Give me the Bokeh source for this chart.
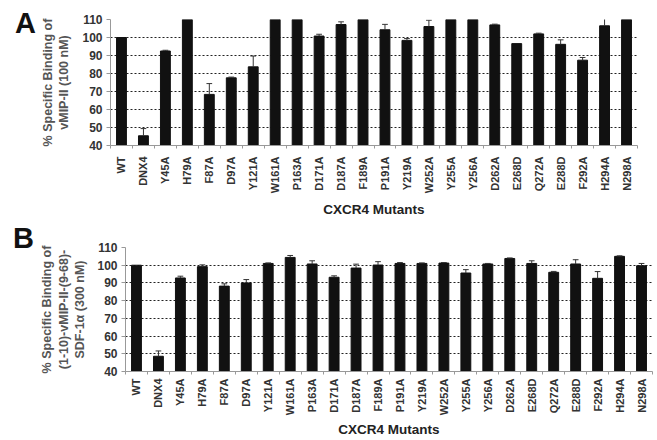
from bokeh.plotting import figure
from bokeh.layouts import column, row
from bokeh.models import Range1d, FixedTicker, Div
from bokeh.embed import file_html
from bokeh.resources import INLINE

categories = ["WT", "DNX4", "Y45A", "H79A", "F87A", "D97A", "Y121A", "W161A",
              "P163A", "D171A", "D187A", "F189A", "P191A", "Y219A", "W252A",
              "Y255A", "Y256A", "D262A", "E268D", "Q272A", "E288D", "F292A",
              "H294A", "N298A"]

vals_a = [100, 45.4, 92.5, 110, 68.4, 77.6, 83.7, 110, 110, 100.8, 107.2, 110,
          104.3, 98.4, 106.1, 110, 110, 107, 96.6, 102, 96.2, 87.4, 106.5, 110]
err_a = [0, 4, 0.4, 0, 6, 0.4, 6, 0, 0, 1, 1.5, 0, 3, 1, 3.5, 0, 0, 0.4, 0,
         0.4, 2.5, 1.5, 4.5, 0]

vals_b = [100, 48.6, 92.8, 99.2, 88.2, 90, 101, 104.4, 100.7, 93.2, 98.4, 100.1,
          101, 101, 101.2, 95.6, 100.7, 103.8, 101, 96, 100.7, 92.6, 105, 99.7]
err_b = [0, 3, 1, 1, 1.3, 1.9, 0.3, 1.1, 1.8, 0.8, 2.2, 1.9, 0.5, 0.3, 0.3,
         1.9, 0.3, 0.3, 1.5, 0.5, 2.4, 3.8, 0.3, 1.3]

y_ticks = [40, 50, 60, 70, 80, 90, 100, 110]

FONT = "Liberation Sans"
DIV_W = 36


def make_panel(vals, errs, ylabel, height, b_left, b_right, b_top, b_bottom,
               ylab_standoff, xlab_standoff, xtick_standoff):
    n = len(categories)
    xs = list(range(n))
    p = figure(width=657 - DIV_W, height=height, output_backend="svg",
               toolbar_location=None,
               x_range=Range1d(-0.5, n - 0.5), y_range=Range1d(40, 110),
               min_border_left=b_left, min_border_right=b_right,
               min_border_top=b_top, min_border_bottom=b_bottom)
    if "frame_align" in p.properties():
        p.frame_align = False
    p.outline_line_color = None
    p.background_fill_color = "white"
    p.border_fill_color = "white"

    p.vbar(x=xs, top=vals, bottom=40, width=0.45, fill_color="#111111",
           line_color="#111111")

    ex, ey0, ey1, cx0, cx1 = [], [], [], [], []
    for x, v, e in zip(xs, vals, errs):
        if e > 0:
            ex.append(x); ey0.append(v); ey1.append(v + e)
            cx0.append(x - 0.13); cx1.append(x + 0.13)
    p.segment(x0=ex, y0=ey0, x1=ex, y1=ey1, line_color="#333333", line_width=1)
    p.segment(x0=cx0, y0=ey1, x1=cx1, y1=ey1, line_color="#333333", line_width=1)

    # y axis
    p.yaxis.ticker = FixedTicker(ticks=y_ticks)
    p.yaxis.axis_line_color = "#999999"
    p.yaxis.major_tick_line_color = "#999999"
    p.yaxis.major_tick_out = 4
    p.yaxis.major_tick_in = 0
    p.yaxis.minor_tick_line_color = None
    p.yaxis.major_label_standoff = 4
    p.yaxis.major_label_text_font = FONT
    p.yaxis.major_label_text_font_size = "12px"
    p.yaxis.major_label_text_font_style = "bold"
    p.yaxis.major_label_text_color = "#333333"
    p.yaxis.axis_label = ylabel
    p.yaxis.axis_label_text_font = FONT
    p.yaxis.axis_label_text_font_size = "12.5px"
    p.yaxis.axis_label_text_font_style = "bold"
    p.yaxis.axis_label_text_color = "#555555"
    p.yaxis.axis_label_standoff = ylab_standoff

    # x axis
    p.xaxis.ticker = FixedTicker(ticks=xs, minor_ticks=[i - 0.5 for i in range(n + 1)])
    p.xaxis.major_label_overrides = {i: c for i, c in enumerate(categories)}
    p.xaxis.major_label_orientation = 3.14159265 / 2
    p.xaxis.axis_line_color = "#999999"
    p.xaxis.major_tick_line_color = None
    p.xaxis.major_tick_out = 0
    p.xaxis.major_tick_in = 0
    p.xaxis.minor_tick_line_color = "#999999"
    p.xaxis.minor_tick_out = 3
    p.xaxis.minor_tick_in = 0
    p.xaxis.major_label_standoff = xtick_standoff
    p.xaxis.major_label_text_font = FONT
    p.xaxis.major_label_text_font_size = "11px"
    p.xaxis.major_label_text_font_style = "bold"
    p.xaxis.major_label_text_color = "#333333"
    p.xaxis.axis_label = "CXCR4 Mutants"
    p.xaxis.axis_label_text_font = FONT
    p.xaxis.axis_label_text_font_size = "13.5px"
    p.xaxis.axis_label_text_font_style = "bold"
    p.xaxis.axis_label_text_color = "#222222"
    p.xaxis.axis_label_standoff = xlab_standoff

    p.xgrid.grid_line_color = None
    p.ygrid.grid_line_color = "#222222"
    p.ygrid.grid_line_alpha = 1.0
    p.ygrid.grid_line_dash = "2 2"
    p.ygrid.grid_line_width = 1
    return p


def letter_div(letter, left, top, height):
    html = ('<div style="position:relative; left:%dpx; top:%dpx; '
            'font-family:\'Liberation Sans\'; font-weight:bold; font-size:29px; '
            'line-height:1; color:#111111;">%s</div>' % (left, top, letter))
    return Div(text=html, width=DIV_W, height=height, margin=0)


pa = make_panel(vals_a, err_a, "% Specific Binding of\nvMIP-II (100 nM)",
                220, 110 - DIV_W, 20, 19, 74, 8, 6, 8)
pb = make_panel(vals_b, err_b,
                "% Specific Binding of\n(1-10)-vMIP-II-(9-68)-\nSDF-1\u03b1 (300 nM)",
                220, 123 - DIV_W, 5, 27, 68, 7, 4, 4)

da = letter_div("A", 15, 9, 220)
db = letter_div("B", 13, 4, 220)

layout = column(row(da, pa, spacing=0), row(db, pb, spacing=0), spacing=0)
open("out.html", "w").write(file_html(layout, INLINE))
